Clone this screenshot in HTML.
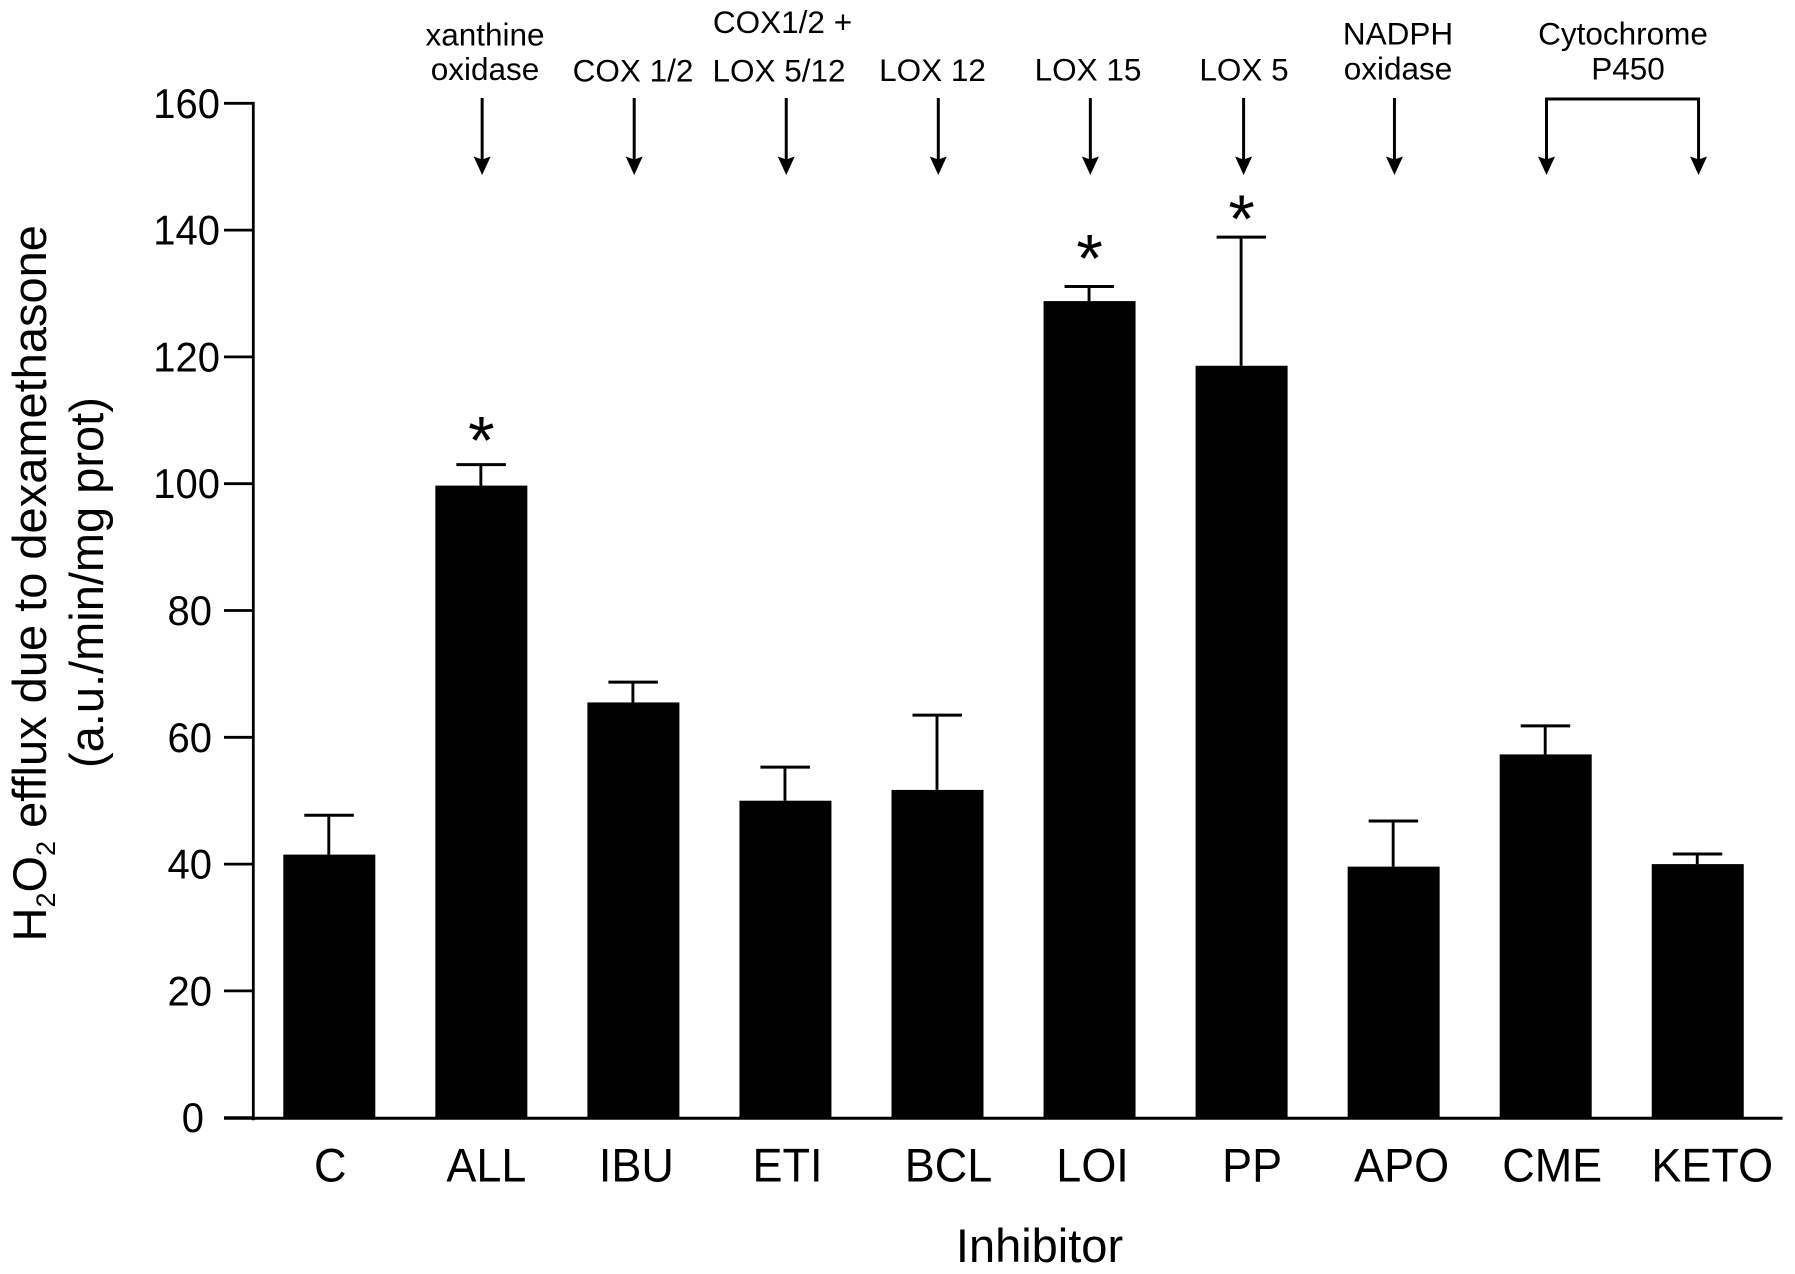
<!DOCTYPE html>
<html lang="en">
<head>
<meta charset="utf-8">
<title>H2O2 efflux due to dexamethasone by inhibitor</title>
<style>
html,body{margin:0;padding:0;background:#fff;}
svg{display:block;}
text{font-family:"Liberation Sans",Arial,sans-serif;fill:#000;}
.top-label{font-size:31.5px;text-anchor:middle;}
</style>
</head>
<body>
<svg id="chart" width="1795" height="1274" viewBox="0 0 1795 1274" xmlns="http://www.w3.org/2000/svg">
  <rect x="0" y="0" width="1795" height="1274" fill="#fff"/>
  <g font-size="47">
    <text transform="translate(46 941.5) rotate(-90)">H<tspan font-size="27" dy="9">2</tspan><tspan dy="-9">O</tspan><tspan font-size="27" dy="9">2</tspan><tspan dy="-9"> efflux due to dexamethasone</tspan></text>
    <text transform="translate(103 768) rotate(-90)">(a.u./min/mg prot)</text>
  </g>
  <text x="1039.5" y="1262" font-size="47" text-anchor="middle">Inhibitor</text>
  <g>
    <text class="top-label" x="485" y="45.5">xanthine</text>
    <text class="top-label" x="485" y="80">oxidase</text>
    <text class="top-label" x="633" y="81.5">COX 1/2</text>
    <text class="top-label" x="782.5" y="33">COX1/2 +</text>
    <text class="top-label" x="779" y="81.5">LOX 5/12</text>
    <text class="top-label" x="932.5" y="81">LOX 12</text>
    <text class="top-label" x="1088" y="80.5">LOX 15</text>
    <text class="top-label" x="1244" y="80.5">LOX 5</text>
    <text class="top-label" x="1398" y="44.5">NADPH</text>
    <text class="top-label" x="1398" y="79.5">oxidase</text>
    <text class="top-label" x="1623" y="44.5">Cytochrome</text>
    <text class="top-label" x="1628" y="79.5">P450</text>
  </g>
  <g id="plot"></g>
</svg>
<script>
const categories = ["C", "ALL", "IBU", "ETI", "BCL", "LOI", "PP", "APO", "CME", "KETO"];
const means = [41.5, 99.7, 65.5, 50.0, 51.7, 128.8, 118.6, 39.6, 57.3, 40.0];
const errors = [6.2, 3.3, 3.2, 5.3, 11.8, 2.3, 20.3, 7.2, 4.5, 1.6];
const significantGroups = ["ALL", "LOI", "PP"];
const yTicks = [0, 20, 40, 60, 80, 100, 120, 140, 160];
const arrowTargets = ["ALL", "IBU", "ETI", "BCL", "LOI", "PP", "APO", "CME", "KETO"];

const NS = "http://www.w3.org/2000/svg";
const plot = document.getElementById("plot");

function yScale(v) { return 1117.7 - 6.34 * v; }
function xBand(name) { return 329.3 + 152.05 * categories.indexOf(name); }

function make(tag, props, parent) {
  const node = document.createElementNS(NS, tag);
  for (const k in props) node.setAttribute(k, props[k]);
  (parent || plot).appendChild(node);
  return node;
}
function stroke(w) { return { stroke: "#000", "stroke-width": w, fill: "none" }; }

/* Bars and error bars */
categories.forEach(function (name, i) {
  const cx = xBand(name);
  const top = yScale(means[i]);
  const errTop = yScale(means[i] + errors[i]);

  const stem = make("line", Object.assign({ x1: cx - 0.5, x2: cx - 0.5, y1: errTop, y2: top }, stroke(2.9)));
  
  

  const cap = make("line", Object.assign({ x1: cx - 25, x2: cx + 24.5, y1: errTop, y2: errTop }, stroke(3)));
  
  

  const bar = make("rect", { x: cx - 46, y: top, width: 92, height: yScale(0) - top, fill: "#000" });
  
  
});

/* Significance asterisks, placed above each error bar */
significantGroups.forEach(function (name) {
  const i = categories.indexOf(name);
  const gapAboveError = { ALL: 37, LOI: 41, PP: 31 }[name];
  const star = make("text", {
    x: xBand(name),
    y: yScale(means[i] + errors[i]) - gapAboveError + 36,
    "font-size": 68,
    "text-anchor": "middle"
  });
  star.textContent = "*";
  
  
});

/* Y axis */
const yAxisLine = make("line", Object.assign({ x1: 253.3, x2: 253.3, y1: yScale(160) - 1.4, y2: yScale(0) + 2.5 }, stroke(2.8)));



yTicks.forEach(function (v) {
  const y = yScale(v);
  const tick = make("line", Object.assign({ x1: 224, x2: 253, y1: y, y2: y }, stroke(2.8)));
  
  

  const s = String(v);
  const label = make("text", {
    "font-size": 40,
    "text-anchor": "end",
    transform: "translate(" + (196 + 8 * s.length) + " " + (y + 14.5) + ") scale(1 1.04)"
  });
  label.textContent = s;
  
  
});

/* X axis */
const xAxisLine = make("line", Object.assign({ x1: 224, x2: 1782.5, y1: 1118.3, y2: 1118.3 }, stroke(3)));



categories.forEach(function (name) {
  const nudge = { C: 1, ALL: 5, IBU: 3, ETI: 2, BCL: 11, LOI: 3, PP: 10.5, APO: 8, CME: 6.5, KETO: 14.5 }[name];
  const label = make("text", {
    "font-size": 45,
    "text-anchor": "middle",
    transform: "translate(" + (xBand(name) + nudge) + " 1181.7) scale(1 1.05)"
  });
  label.textContent = name;
  
  
});

/* Arrows from target labels */
arrowTargets.forEach(function (name) {
  const ax = xBand(name) + (name === "PP" ? 2 : 0.8);
  const shaft = make("line", Object.assign({ x1: ax, x2: ax, y1: 98, y2: 160 }, stroke(3)));
  
  

  const head = make("path", { d: "M" + (ax - 8.5) + " 156.5 L" + ax + " 159.5 L" + (ax + 8.5) + " 156.5 L" + ax + " 175 Z", fill: "#000" });
  
  
});

/* Cytochrome P450 bracket joining its two arrows */
const bracket = make("line", Object.assign({ x1: xBand("CME") + 0.8 - 1.5, x2: xBand("KETO") + 0.8 + 1.5, y1: 99, y2: 99 }, stroke(3)));


</script>
</body>
</html>
